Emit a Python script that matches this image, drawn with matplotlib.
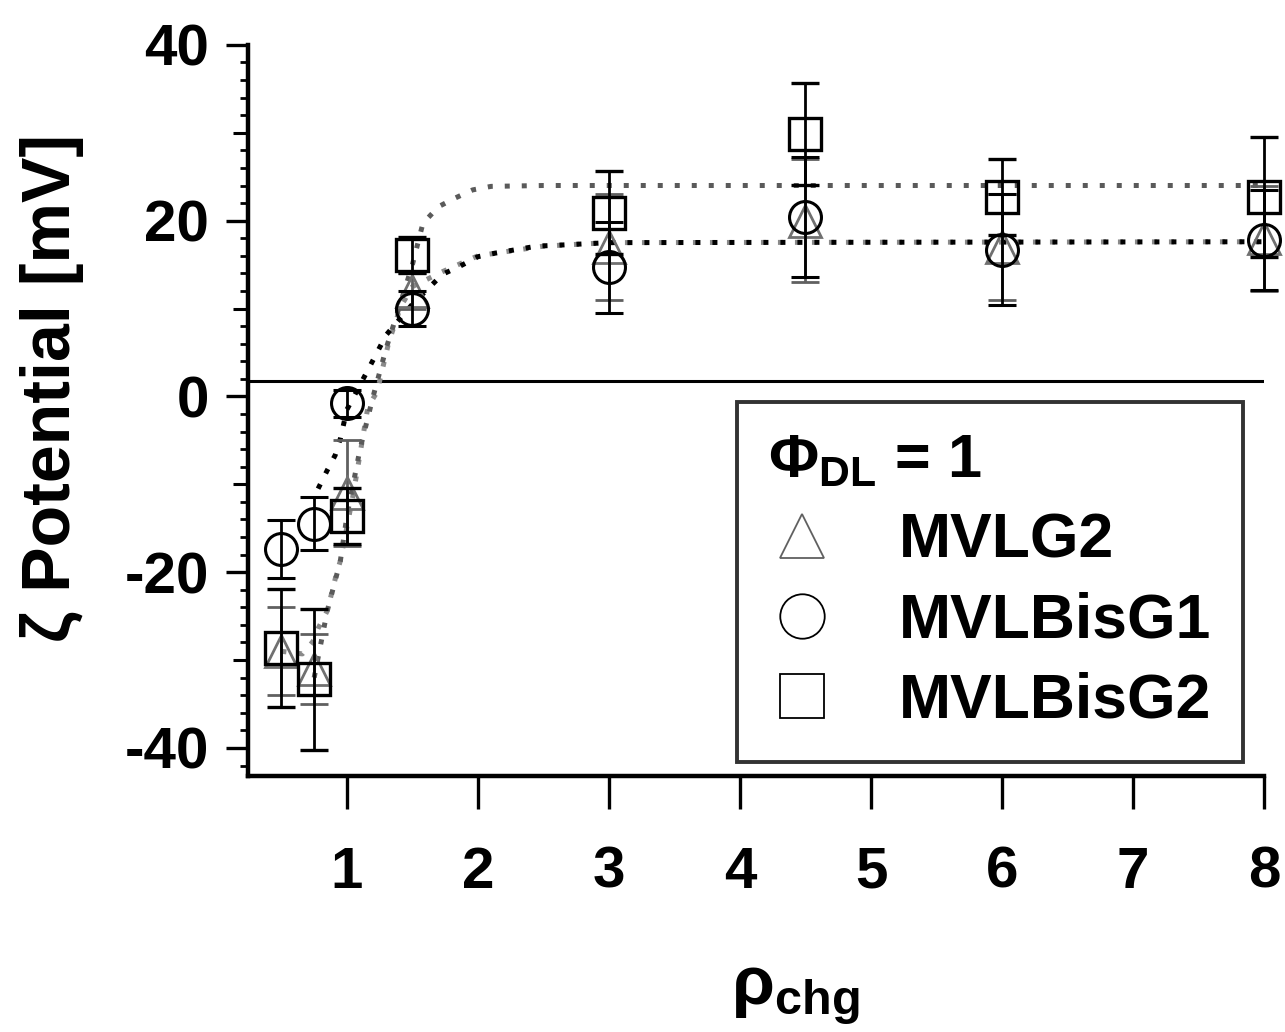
import matplotlib
matplotlib.use("Agg")
import matplotlib.pyplot as plt
from matplotlib.lines import Line2D
from matplotlib.ticker import MultipleLocator

plt.rcParams['font.family'] = ['Liberation Sans', 'DejaVu Sans']
plt.rcParams['font.weight'] = 'bold'
plt.rcParams['axes.unicode_minus'] = False
plt.rcParams['mathtext.fontset'] = 'custom'
plt.rcParams['mathtext.rm'] = 'Liberation Sans:bold'
plt.rcParams['mathtext.bf'] = 'Liberation Sans:bold'
plt.rcParams['mathtext.it'] = 'Liberation Sans:bold'

# charge ratio
rho = [0.5, 0.75, 1, 1.5, 3, 4.5, 6, 8]

# MVLG2 (triangles)
g2_y = [-29, -31, -11, 12, 17, 20, 17, 18]
g2_err = [5, 4, 6, 2, 6, 7, 6, 6]
# MVLBisG1 (circles)
bg1_y = [-17.4, -14.5, -0.8, 10, 14.7, 20.4, 16.7, 17.8]
bg1_err = [3.3, 3, 1.5, 2, 5.2, 6.8, 6.3, 5.7]
# MVLBisG2 (squares)
bg2_y = [-28.6, -32.2, -13.6, 16.1, 20.9, 29.9, 22.7, 22.7]
bg2_err = [6.7, 8, 3.2, 2, 4.7, 5.8, 4.3, 6.8]

# fit curves
fit_bg2_x = [0.75, 0.85, 0.95, 1.0, 1.1, 1.2, 1.3, 1.4, 1.5, 1.58, 1.7, 1.83, 1.96, 2.1, 2.5, 8]
fit_bg2_y = [-32, -24.4, -18.7, -13.6, -6, 0, 5.5, 10.2, 15, 19.7, 21.6, 22.6, 23.5, 23.9, 24, 24]
fit_g2_x = [0.5, 0.66, 0.74, 0.78, 0.85, 0.92, 0.95, 1.05, 1.16, 1.23, 1.32, 1.41, 1.5, 1.73, 2.0, 2.5, 3, 8]
fit_g2_y = [-29, -29.3, -27.9, -26.4, -24.4, -20.2, -18.7, -11, -1.2, 0.5, 6.2, 10.2, 12.5, 14.2, 16, 17.1, 17.5, 17.6]
fit_bg1_x = [0.78, 0.85, 0.91, 0.95, 1.0, 1.16, 1.3, 1.5, 1.73, 1.86, 2.0, 2.13, 2.45, 2.6, 3, 8]
fit_bg1_y = [-10.5, -8.4, -6.7, -4.8, -1.5, 3, 7, 10.5, 13.9, 14.8, 15.9, 16.3, 17.1, 17.2, 17.5, 17.6]

baseline = 1.8

fig = plt.figure(figsize=(12.85, 10.32), dpi=100)
ax = fig.add_axes([0.193, 0.248, 0.7907, 0.7085])

dot = (0, (1, 2.4))
ax.plot(fit_g2_x, fit_g2_y, color='#8a8a8a', lw=3.6, ls=dot, dash_capstyle='butt', zorder=2)
ax.plot(fit_bg2_x, fit_bg2_y, color='#5a5a5a', lw=3.6, ls=dot, dash_capstyle='butt', zorder=2)
ax.plot(fit_bg1_x, fit_bg1_y, color='black', lw=3.6, ls=dot, dash_capstyle='butt', zorder=2)

ax.axhline(baseline, color='black', lw=2.2, zorder=1)

ax.errorbar(rho, g2_y, yerr=g2_err, fmt='^', ms=23, mfc='none', mec='#707070', mew=2,
            ecolor='#606060', elinewidth=2, capsize=10, capthick=2.5, clip_on=False, zorder=3)
ax.errorbar(rho, bg1_y, yerr=bg1_err, fmt='o', ms=23, mfc='none', mec='black', mew=2.2,
            ecolor='black', elinewidth=2, capsize=10, capthick=2.5, clip_on=False, zorder=4)
ax.errorbar(rho, bg2_y, yerr=bg2_err, fmt='s', ms=23, mfc='none', mec='black', mew=2.4,
            ecolor='black', elinewidth=2, capsize=10, capthick=2.5, clip_on=False, zorder=5)

ax.set_xlim(0.245, 8)
ax.set_ylim(-43.2, 40)
ax.spines['top'].set_visible(False)
ax.spines['right'].set_visible(False)
ax.spines['left'].set_linewidth(3.2)
ax.spines['bottom'].set_linewidth(3.2)

ax.set_xticks(range(1, 9))
ax.tick_params(axis='x', which='major', direction='out', length=24, width=2.4, pad=26, labelsize=42)
ax.yaxis.set_major_locator(MultipleLocator(20))
ax.yaxis.set_minor_locator(MultipleLocator(2))
ax.tick_params(axis='y', which='major', direction='out', length=16, width=2.4, pad=12, labelsize=42)
ax.tick_params(axis='y', which='minor', direction='out', length=6, width=2)
for lab in ax.get_xticklabels() + ax.get_yticklabels():
    lab.set_fontweight('bold')

# medium ticks every 10
sec = ax.secondary_yaxis('left')
sec.set_yticks([-30, -10, 10, 30])
sec.set_yticklabels([])
sec.tick_params(axis='y', direction='out', length=11, width=2.2)
sec.spines['left'].set_visible(False)

fig.text(52 / 1285, 1 - 388 / 1032, 'ζ Potential [mV]', rotation=90, ha='center', va='center',
         fontsize=49, fontweight='bold')
fig.text(795 / 1285, 1 - 995 / 1032, r'$\mathbf{ρ_{chg}}$', ha='center', va='center', fontsize=50)

handles = [
    Line2D([], [], ls='none', marker='^', ms=32, mfc='none', mec='#606060', mew=1.3),
    Line2D([], [], ls='none', marker='o', ms=32, mfc='none', mec='black', mew=1.3),
    Line2D([], [], ls='none', marker='s', ms=32, mfc='none', mec='black', mew=1.3),
]
leg = ax.legend(handles, ['MVLG2', 'MVLBisG1', 'MVLBisG2'], loc='lower left',
                bbox_to_anchor=(0.481, 0.019), title=r'$\mathbf{Φ_{DL}}$ = 1',
                fontsize=45, title_fontsize=44, frameon=True, fancybox=False,
                handlelength=1.1, handletextpad=1.0, labelspacing=0.34, borderpad=0.5,
                borderaxespad=0, alignment='left')
leg.get_frame().set_edgecolor('black')
leg.get_frame().set_linewidth(2.8)
for t in leg.get_texts():
    t.set_fontweight('bold')
leg.get_title().set_fontweight('bold')

fig.savefig('out.png', dpi=100)
